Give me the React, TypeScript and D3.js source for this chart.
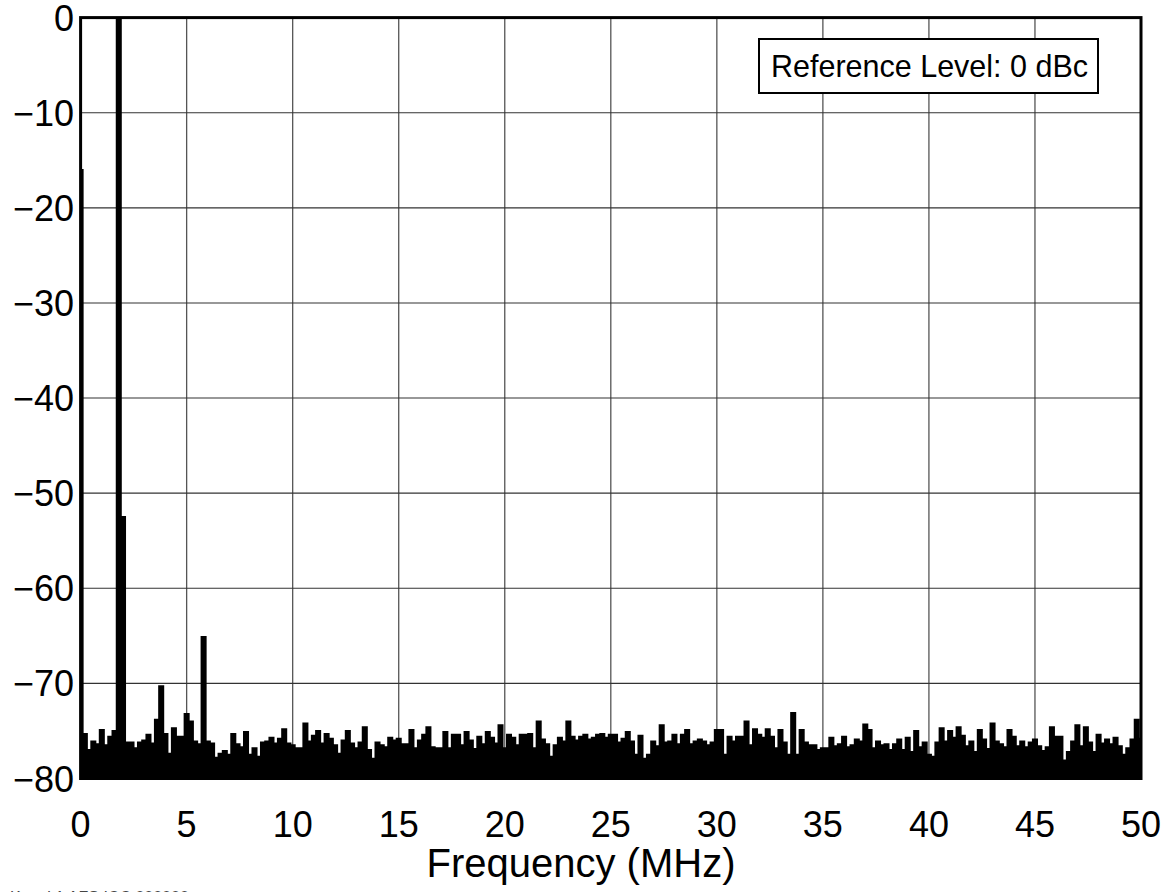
import React from 'react';
import * as d3 from 'd3';

const FREQ_STEP = 0.2; // MHz per bin
const xTicks = [0, 5, 10, 15, 20, 25, 30, 35, 40, 45, 50];
const yTicks = [0, -10, -20, -30, -40, -50, -60, -70, -80];
const referenceText = 'Reference Level: 0 dBc';
const xTitle = 'Frequency (MHz)';

// noise floor, one value per 0.2 MHz bin (dBc)
const noiseFloor = [
  -76.5, -75.3, -77.0, -76.1, -76.4, -74.9, -76.5, -75.6, -75.0, -76.0,
  -76.0, -76.2, -76.2, -76.8, -76.2, -76.0, -75.4, -76.3, -73.8, -76.0,
  -75.3, -77.4, -74.7, -75.6, -75.6, -76.0, -74.0, -76.1, -76.4, -76.0,
  -76.1, -76.3, -77.8, -77.4, -77.1, -77.5, -75.3, -76.4, -76.7, -75.1,
  -77.5, -76.8, -77.7, -76.2, -76.1, -75.7, -76.3, -75.8, -74.8, -76.3,
  -76.5, -76.8, -76.8, -74.2, -76.1, -75.5, -75.0, -76.3, -75.3, -75.8,
  -76.5, -77.4, -76.0, -75.0, -76.3, -76.8, -76.2, -74.6, -77.0, -77.9,
  -76.2, -76.5, -76.7, -75.7, -76.0, -75.8, -76.4, -76.4, -74.9, -76.8,
  -76.0, -75.4, -74.6, -76.7, -76.8, -76.8, -75.1, -76.8, -75.4, -75.4,
  -76.5, -75.1, -76.0, -76.9, -75.6, -76.4, -75.1, -75.7, -76.3, -74.4,
  -76.8, -75.4, -75.7, -76.5, -75.4, -75.4, -75.3, -76.8, -74.0, -75.9,
  -76.4, -77.7, -76.5, -75.7, -76.1, -74.0, -75.6, -76.0, -75.6, -75.4,
  -75.9, -75.7, -75.4, -75.3, -75.7, -75.4, -75.4, -76.2, -75.8, -75.1,
  -76.1, -77.5, -75.5, -77.9, -77.5, -76.1, -76.6, -74.4, -76.2, -76.1,
  -75.4, -76.4, -75.4, -74.9, -76.4, -76.1, -75.9, -76.1, -76.5, -76.2,
  -74.9, -74.9, -77.5, -75.6, -76.1, -75.6, -75.6, -74.0, -76.5, -74.8,
  -75.4, -75.7, -74.8, -75.6, -76.8, -74.9, -76.2, -77.5, -73.1, -77.5,
  -74.9, -76.2, -76.5, -76.5, -77.0, -76.8, -76.8, -75.7, -76.6, -76.4,
  -75.6, -76.7, -76.5, -75.9, -76.1, -74.3, -74.9, -76.8, -76.1, -76.5,
  -76.4, -77.0, -76.4, -75.9, -77.0, -75.7, -77.2, -75.0, -76.7, -76.2,
  -77.5, -77.7, -76.2, -74.7, -76.1, -75.0, -75.7, -74.6, -75.5, -76.6,
  -76.1, -77.2, -74.9, -75.9, -76.9, -74.2, -76.1, -76.4, -76.7, -74.9,
  -75.6, -76.6, -76.1, -76.7, -76.2, -75.9, -76.6, -77.1, -76.7, -74.6,
  -75.6, -75.6, -78.1, -77.2, -76.1, -74.4, -76.6, -74.6, -76.2, -77.2,
  -75.4, -76.3, -75.9, -76.4, -75.7, -76.6, -77.5, -76.8, -75.9, -73.8,
  -75.8,
];

// discrete tones (MHz, dBc)
const spurFreqs = [0, 1.8, 2.0, 3.8, 5.0, 5.8];
const spurLevels = [-16, 0, -52.5, -70.3, -73.2, -65.1];

const W = 1171;
const H = 892;
const PL = 80.6, PR = 1141, PT = 17.6, PB = 778.5;
const FONT = '"Liberation Sans", Arial, Helvetica, sans-serif';

export default function App() {
  const x = d3.scaleLinear().domain([0, 50]).range([PL, PR]);
  const y = d3.scaleLinear().domain([-80, 0]).range([PB, PT]);

  const series = noiseFloor.map((v, i) => ({ f: i * FREQ_STEP, v }));
  spurFreqs.forEach((f, j) => {
    const idx = Math.round(f / FREQ_STEP);
    series[idx] = { f: series[idx].f, v: Math.max(series[idx].v, spurLevels[j]) };
  });

  const area = d3
    .area<{ f: number; v: number }>()
    .x((d) => x(d.f))
    .y0(y(-80))
    .y1((d) => y(d.v))
    .curve(d3.curveStep);
  const line = d3
    .line<{ f: number; v: number }>()
    .x((d) => x(d.f))
    .y((d) => y(d.v))
    .curve(d3.curveStep);

  const fmt = (v: number) => (v < 0 ? '\u2212' + Math.abs(v) : String(v));

  return (
    <svg
      width={W}
      height={H}
      style={{ position: 'absolute', left: 0, top: 0, background: '#fff' }}
      fontFamily={FONT}
    >
      <defs>
        <clipPath id="plotClip">
          <rect x={PL} y={PT} width={PR - PL} height={PB - PT} />
        </clipPath>
      </defs>
      <rect x={0} y={0} width={W} height={H} fill="#fff" />
      {/* grid */}
      {xTicks.slice(1, -1).map((t) => (
        <line key={'gx' + t} x1={x(t)} x2={x(t)} y1={PT} y2={PB} stroke="#555" strokeWidth={1.3} />
      ))}
      {yTicks.slice(1, -1).map((t) => (
        <line key={'gy' + t} x1={PL} x2={PR} y1={y(t)} y2={y(t)} stroke="#333" strokeWidth={1.1} />
      ))}
      {/* spectrum */}
      <g clipPath="url(#plotClip)">
        <path d={area(series) || ''} fill="#000" />
        <path d={line(series) || ''} fill="none" stroke="#000" strokeWidth={1.8} strokeLinejoin="miter" />
      </g>
      {/* frame */}
      <rect x={PL} y={PT} width={PR - PL} height={PB - PT} fill="none" stroke="#000" strokeWidth={3} />
      {/* reference box */}
      <rect x={759} y={39} width={339} height={54} fill="#fff" stroke="#000" strokeWidth={2} />
      <text x={771} y={77} fontSize={30.5} fill="#000">{referenceText}</text>
      {/* y tick labels */}
      {yTicks.map((t) => (
        <text key={'ly' + t} x={74} y={y(t) + 13} fontSize={36} textAnchor="end" fill="#000">
          {fmt(t)}
        </text>
      ))}
      {/* x tick labels */}
      {xTicks.map((t) => (
        <text key={'lx' + t} x={x(t)} y={837} fontSize={36} textAnchor="middle" fill="#000">
          {t}
        </text>
      ))}
      <text x={581} y={877} fontSize={40} textAnchor="middle" fill="#000">{xTitle}</text>
      <text x={10} y={903} fontSize={16} fill="#444">Kanal 1 AFS  ICC 000000</text>
    </svg>
  );
}
